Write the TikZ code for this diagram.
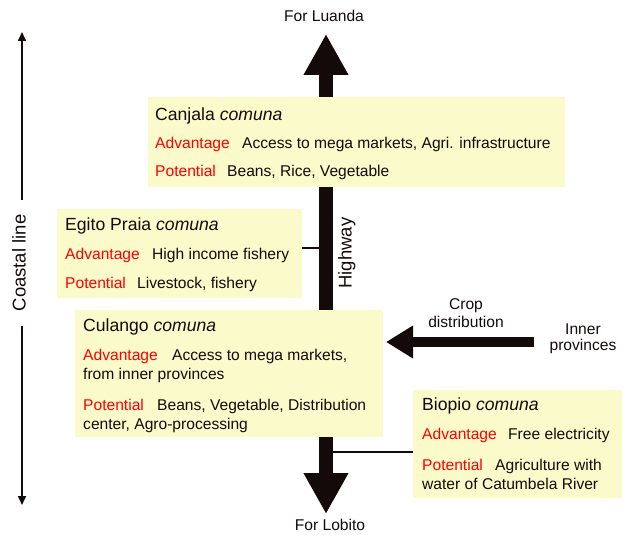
\documentclass[tikz,border=0pt]{standalone}
\usepackage{fontspec}
\setmainfont{Liberation Sans}
\usetikzlibrary{arrows.meta}
\definecolor{boxfill}{RGB}{250,250,202}
\definecolor{ink}{RGB}{20,10,10}
\begin{document}
\begin{tikzpicture}[x=1pt,y=-1pt,
  font=\fontsize{15.6}{18}\selectfont,
  box/.style={fill=boxfill, draw=none, inner sep=0pt, anchor=north west},
  txt/.style={anchor=west, inner sep=0pt, text height=11pt, text depth=3pt, text=ink},
  ttl/.style={txt, font=\fontsize{17.6}{20}\selectfont, text height=12.5pt, text depth=3.5pt},
  lab/.style={txt, text=red},
  ctr/.style={inner sep=0pt, text height=11pt, text depth=3pt, text=ink},
  big/.style={ctr, font=\fontsize{18.5}{21}\selectfont, text height=13pt, text depth=4pt},
  conn/.style={draw=ink, line width=1.5pt}]
\useasboundingbox (0,0) rectangle (625,535);
% coastal line
\coordinate (ctop) at (22,32);
\coordinate (cbot) at (22,505);
\draw[draw=ink, line width=1.6pt, {Triangle[length=9pt,width=8pt]}-{Triangle[length=9pt,width=8pt]}] (ctop) -- (cbot);
\node[big, fill=white, rotate=90, inner xsep=15pt, inner ysep=3pt] (coast) at (21,263) {Coastal line};
% highway
\coordinate (htop) at (326,34);
\coordinate (hbot) at (326,514);
\draw[draw=ink, line width=14pt, {Triangle[length=41pt,width=42pt]}-{Triangle[length=41pt,width=42pt]}] (htop) -- (hbot);
\node[ctr] (luanda) at (324,18) {For Luanda};
\node[ctr] (lobito) at (330,526) {For Lobito};
\node[big, rotate=90] (hwy) at (347,253) {Highway};
% crop distribution arrow
\coordinate (cstart) at (534,342);
\coordinate (cend) at (386,342);
\draw[draw=ink, line width=10pt, -{Triangle[length=27pt,width=31pt]}] (cstart) -- (cend);
\node[ctr] (crop) at (466,305) {Crop};
\node[ctr] (distr) at (466,323) {distribution};
\node[ctr] (inner) at (583,330) {Inner};
\node[ctr] (prov) at (583,346) {provinces};
% Canjala
\node[box, minimum width=417pt, minimum height=90pt] (canjala) at (148,97) {};
\node[ttl] (c1) at (155,116) {Canjala \textit{comuna}};
\node[lab] (c2) at (155,145) {Advantage};
\node[txt] (c3) at (242,145) {Access to mega markets, Agri. infrastructure};
\node[lab] (c4) at (155,173) {Potential};
\node[txt] (c5) at (227,173) {Beans, Rice, Vegetable};
% Egito Praia
\node[box, minimum width=245pt, minimum height=89pt] (egito) at (57,209) {};
\node[ttl] (e1) at (65,226) {Egito Praia \textit{comuna}};
\node[lab] (e2) at (65,255) {Advantage};
\node[txt] (e3) at (152,255) {High income fishery};
\node[lab] (e4) at (65,284) {Potential};
\node[txt] (e5) at (137,284) {Livestock, fishery};
\draw[conn] (egito.east |- 0,248) -- (319,248);
% Culango
\node[box, minimum width=308pt, minimum height=127pt] (culango) at (75,310) {};
\node[ttl] (u1) at (83,327) {Culango \textit{comuna}};
\node[lab] (u2) at (83,356) {Advantage};
\node[txt] (u3) at (172,356) {Access to mega markets,};
\node[txt] (u4) at (83,375) {from inner provinces};
\node[lab] (u5) at (83,406) {Potential};
\node[txt] (u6) at (157,406) {Beans, Vegetable, Distribution};
\node[txt] (u7) at (83,425) {center, Agro-processing};
% Biopio
\node[box, minimum width=209pt, minimum height=108pt] (biopio) at (413,390) {};
\node[ttl] (b1) at (422,406) {Biopio \textit{comuna}};
\node[lab] (b2) at (422,435) {Advantage};
\node[txt] (b3) at (508,435) {Free electricity};
\node[lab] (b4) at (422,466) {Potential};
\node[txt] (b5) at (495,466) {Agriculture with};
\node[txt] (b6) at (422,485) {water of Catumbela River};
\draw[conn] (333,452) -- (biopio.west |- 0,452);
\end{tikzpicture}
\end{document}
